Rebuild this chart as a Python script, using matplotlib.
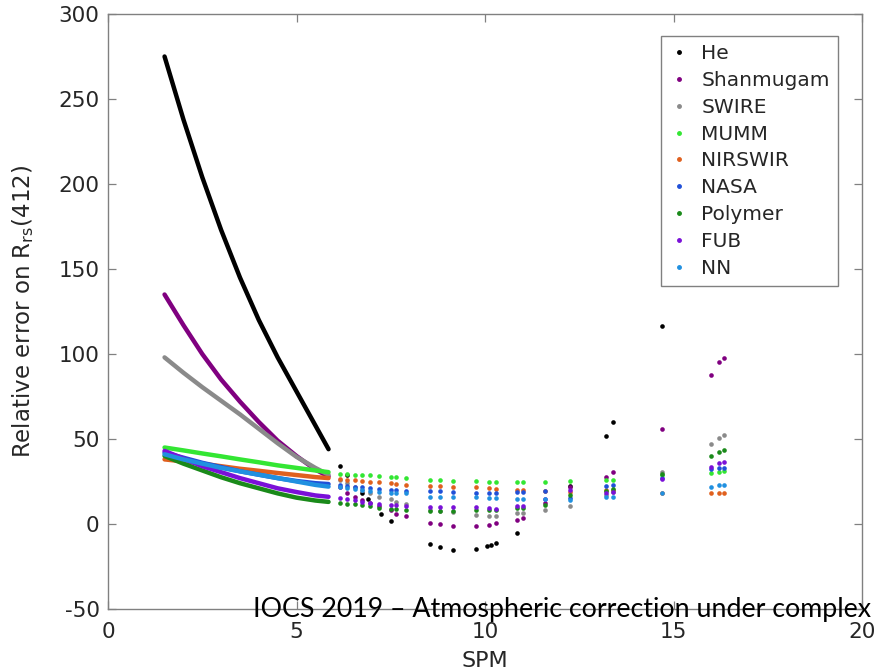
import numpy as np
import matplotlib
matplotlib.use("Agg")
import matplotlib.pyplot as plt
from matplotlib.lines import Line2D

# ---------------- data ----------------
methods = ["He", "Shanmugam", "SWIRE", "MUMM", "NIRSWIR", "NASA", "Polymer", "FUB", "NN"]
colors = {
    "He": "#000000", "Shanmugam": "#800080", "SWIRE": "#8a8a8a", "MUMM": "#33e633",
    "NIRSWIR": "#e0601e", "NASA": "#2050d8", "Polymer": "#1a8a1a", "FUB": "#7a10d8",
    "NN": "#2090e0",
}

# dense (continuous) part, SPM 1.5 - 5.85
line_x = [1.5, 2.0, 2.5, 3.0, 3.5, 4.0, 4.5, 5.0, 5.5, 5.85]
line_y = {
    "He":        [275, 238, 204, 173, 145, 120, 98, 78, 58, 44],
    "Shanmugam": [135, 117, 100, 85, 72, 60, 49, 40, 32, 28],
    "SWIRE":     [98, 89, 80.5, 72.5, 64.5, 56, 47.5, 39.5, 33, 29],
    "MUMM":      [45, 43.3, 41.5, 39.8, 38, 36.3, 34.5, 33, 31.5, 30.5],
    "NIRSWIR":   [38, 36.8, 35.5, 34, 32.5, 31.3, 30, 28.8, 27.6, 27],
    "NASA":      [42, 39, 36, 33.5, 31, 29, 27, 25.3, 24, 23.5],
    "Polymer":   [40, 35.5, 31.5, 27.5, 24, 21, 18, 15.5, 13.8, 13],
    "FUB":       [43, 38.5, 34, 30.5, 27, 24, 21, 18.8, 16.8, 16],
    "NN":        [41, 38, 35.5, 33, 31, 29, 27, 25, 23, 22],
}

# scattered points
he_x = [6.15, 6.35, 6.75, 6.9, 7.25, 7.5, 8.55, 8.8, 9.15, 9.75, 10.05, 10.15, 10.3, 10.85, 12.25, 13.2, 13.4, 14.7]
he_y = [34, 29, 18, 15, 6, 2, -12, -13.5, -15, -14.7, -12.9, -12.4, -11.4, -5.5, 22.5, 52, 60, 116.5]

cols = [6.15, 6.35, 6.55, 6.75, 6.95, 7.2, 7.5, 7.65, 7.9, 8.55, 8.8, 9.15, 9.75,
        10.1, 10.3, 10.85, 11.0, 11.6, 12.25, 13.2, 13.4, 14.7, 16.0, 16.2, 16.35]
pts_y = {
    "Shanmugam": [22, 18, 16, 14, 12.2, 10.5, 8, 6, 4.7, 0.8, 0, -1.2, -1.2, -0.6, 0.4, 2.4, 3.3, 12.5, 22, 27.5, 30.8, 55.9, 87.6, 95.1, 97.6],
    "SWIRE":     [26, 24, 22, 20, 18, 16, 14.5, 13, 12, 8, 7.5, 7, 5.3, 5, 5, 6.3, 6.3, 8.2, 10.6, 17, 19, 30.6, 46.9, 50.8, 52.2],
    "MUMM":      [29.5, 29.3, 29, 28.8, 28.6, 28.2, 27.8, 27.5, 27, 25.9, 25.7, 25.5, 25.3, 25, 25, 24.9, 24.9, 24.9, 25.3, 25.9, 25.9, 29, 30.2, 30.8, 31.4],
    "NIRSWIR":   [26.3, 26, 25.7, 25.4, 25, 24.6, 24, 23.5, 23, 22.4, 22.4, 22, 21.6, 21, 20.8, 20, 20, 19.6, 19, 20, 20, 18.2, 18.2, 18.2, 18.2],
    "NASA":      [23, 22.5, 22, 21.5, 21, 20.5, 20, 19.8, 19.5, 19.4, 19.4, 19, 18.4, 18.4, 18.2, 19, 19, 19.6, 15.5, 22.5, 23.1, 27, 32.2, 32.7, 33.1],
    "Polymer":   [12.5, 12, 11.5, 11, 10.5, 9.5, 9, 8.8, 8.5, 7.8, 7.8, 7.8, 8.2, 8.2, 8, 9.5, 9.5, 11, 17, 19.6, 20.8, 29.4, 40, 42.6, 43.3],
    "FUB":       [15.5, 14.8, 14, 13, 12.2, 11.5, 11.2, 11, 10.8, 10.2, 10.2, 10.2, 10.2, 9.6, 9, 10.6, 10.6, 14.5, 20, 18, 18.6, 26.5, 33.7, 36, 36.7],
    "NN":        [21.5, 21, 20.5, 20, 19.5, 19, 18.5, 18.2, 18, 16.1, 16.1, 15.8, 15.7, 15.1, 15.1, 14.5, 14.5, 14.5, 14, 15.7, 15.9, 18.4, 22, 22.7, 22.9],
}

xticks = [0, 5, 10, 15, 20]
yticks = [-50, 0, 50, 100, 150, 200, 250, 300]

# ---------------- plot ----------------
plt.rcParams["font.family"] = ["DejaVu Sans"]
plt.rcParams["mathtext.default"] = "regular"

fig = plt.figure(figsize=(8.75, 6.71), dpi=100)
ax = fig.add_axes([108 / 875, 62 / 671, 754 / 875, 595 / 671])

for m in methods:
    c = colors[m]
    ax.plot(line_x, line_y[m], color=c, lw=3.2, solid_capstyle="round", zorder=2)
    if m == "He":
        ax.scatter(he_x, he_y, s=11, color=c, linewidths=0, zorder=3)
    else:
        ax.scatter(cols, pts_y[m], s=11, color=c, linewidths=0, zorder=3)

ax.set_xlim(0, 20)
ax.set_ylim(-50, 300)
ax.set_xticks(xticks)
ax.set_yticks(yticks)
ax.set_xticklabels([str(t) for t in xticks])
ax.set_yticklabels([str(t) for t in yticks])
ax.tick_params(direction="in", length=6, width=0.9, color="#808080",
               labelsize=15.5, labelcolor="#262626", top=True, right=True, pad=6)
ax.tick_params(axis="x", pad=9)
for s in ax.spines.values():
    s.set_color("#808080")
    s.set_linewidth(1.0)

ax.set_xlabel("SPM", fontsize=16, color="#262626", labelpad=7)
ax.set_ylabel("Relative error on R$_{rs}$(412)", fontsize=16.5, color="#262626", labelpad=16)

handles = [Line2D([], [], ls="none", marker=".", markersize=5, color=colors[m]) for m in methods]
leg = ax.legend(handles, methods, loc="upper right", bbox_to_anchor=(0.968, 0.963),
                borderaxespad=0.0,
                fontsize=14.5, frameon=True, fancybox=False, framealpha=1,
                edgecolor="#808080", handlelength=1.0, handletextpad=0.6,
                labelspacing=0.39, borderpad=0.4)
leg.get_frame().set_linewidth(1.0)
for t in leg.get_texts():
    t.set_color("#262626")

# overlay caption
cap = fig.text(253 / 875, (671 - 617) / 671, "IOCS 2019 \u2013 Atmospheric correction under complex",
               fontsize=20, family=["Lato", "DejaVu Sans"], color="black", ha="left", va="baseline")
fig.canvas.draw()
bb = cap.get_window_extent(fig.canvas.get_renderer())
target = 620.0
cap.set_fontsize(20 * target / bb.width)

fig.savefig("out.png", dpi=100)
